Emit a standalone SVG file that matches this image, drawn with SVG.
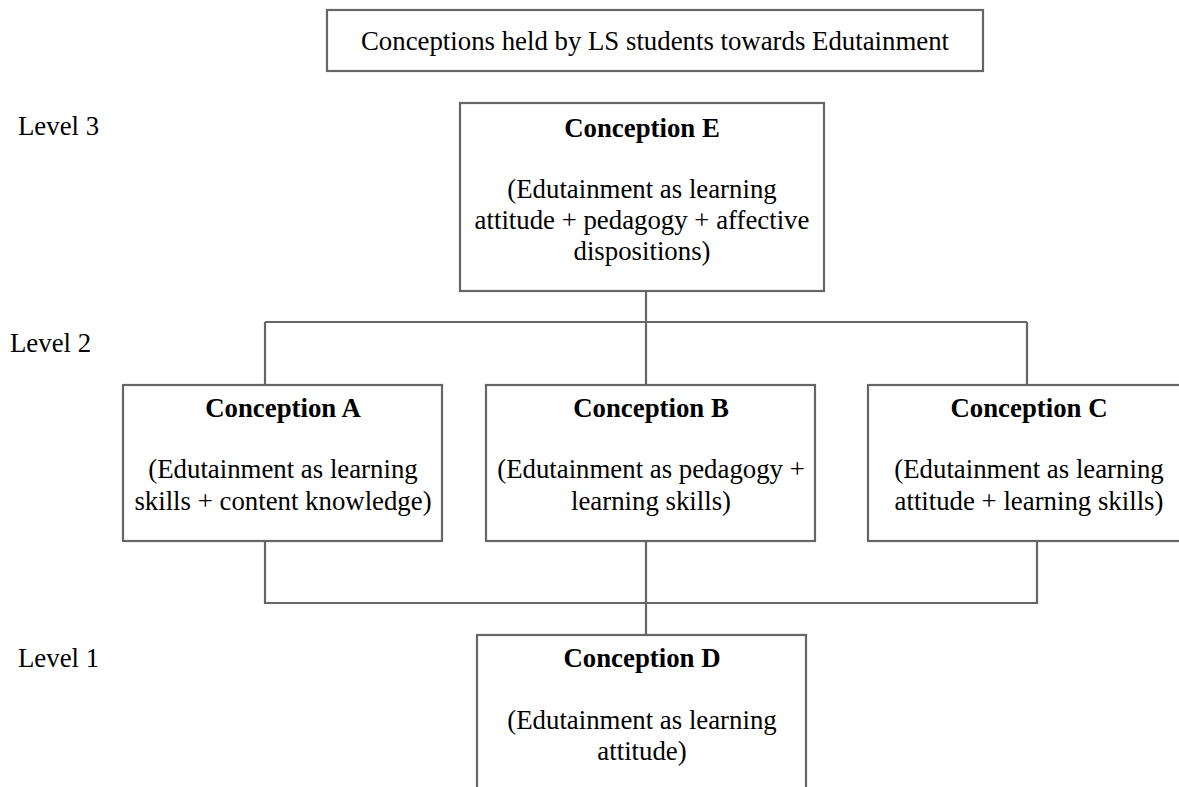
<svg xmlns="http://www.w3.org/2000/svg" width="1179" height="787" viewBox="0 0 1179 787">
<style>
.box{fill:#fff;stroke:#666;stroke-width:2.2}
.ln{fill:none;stroke:#666;stroke-width:2.2}
text{font-family:"Liberation Serif","Times New Roman",serif;font-size:26.8px;fill:#000}
.t{text-anchor:middle}
.b{font-weight:bold}
</style>
<rect width="1179" height="787" fill="#fff"/>
<g id="connectors">
<path class="ln" d="M646 291V322M265 322H1027M265 322V385M646 322V385M1027 322V385"/>
<path class="ln" d="M265 541V603H1037V541M646 541V635"/>
</g>
<g id="title">
<rect class="box" x="327" y="10" width="656" height="61"/>
<text class="t" x="655" y="50">Conceptions held by LS students towards Edutainment</text>
</g>
<g id="levels">
<text x="18" y="135">Level 3</text>
<text x="10" y="352">Level 2</text>
<text x="18" y="667">Level 1</text>
</g>
<g id="nodeE">
<rect class="box" x="460" y="103" width="364" height="188"/>
<text class="t" x="642" y="137"><tspan class="b">Conception E</tspan></text>
<text class="t" x="642" y="198">(Edutainment as learning</text>
<text class="t" x="642" y="229">attitude + pedagogy + affective</text>
<text class="t" x="642" y="260">dispositions)</text>
</g>
<g id="nodeA">
<rect class="box" x="123" y="385" width="319" height="156"/>
<text class="t b" x="283" y="417">Conception A</text>
<text class="t" x="283" y="478">(Edutainment as learning</text>
<text class="t" x="283" y="510">skills + content knowledge)</text>
</g>
<g id="nodeB">
<rect class="box" x="486" y="385" width="329" height="156"/>
<text class="t b" x="651" y="417">Conception B</text>
<text class="t" x="651" y="478">(Edutainment as pedagogy +</text>
<text class="t" x="651" y="510">learning skills)</text>
</g>
<g id="nodeC">
<rect class="box" x="868" y="385" width="320" height="156"/>
<text class="t b" x="1029" y="417">Conception C</text>
<text class="t" x="1029" y="478">(Edutainment as learning</text>
<text class="t" x="1029" y="510">attitude + learning skills)</text>
</g>
<g id="nodeD">
<rect class="box" x="477" y="635" width="329" height="170"/>
<text class="t b" x="642" y="667">Conception D</text>
<text class="t" x="642" y="729">(Edutainment as learning</text>
<text class="t" x="642" y="760">attitude)</text>
</g>
</svg>
